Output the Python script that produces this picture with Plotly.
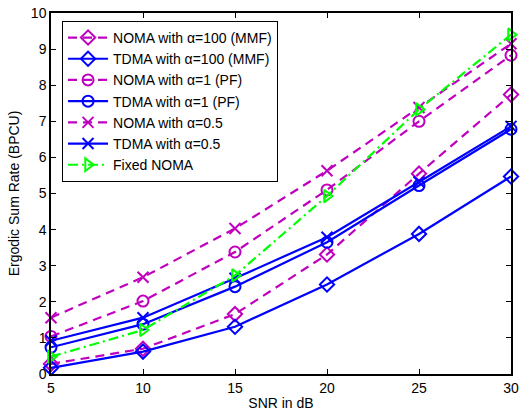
import plotly.graph_objects as go

snr_db = [5, 10, 15, 20, 25, 30]
noma_mmf = [0.28, 0.70, 1.66, 3.31, 5.55, 7.74]
tdma_mmf = [0.17, 0.62, 1.31, 2.48, 3.88, 5.47]
noma_pf = [1.04, 2.02, 3.38, 5.10, 7.00, 8.83]
tdma_pf = [0.74, 1.38, 2.42, 3.65, 5.22, 6.78]
noma_05 = [1.56, 2.68, 4.03, 5.63, 7.38, 9.15]
tdma_05 = [0.92, 1.56, 2.65, 3.79, 5.32, 6.86]
fixed_noma = [0.48, 1.22, 2.73, 4.93, 7.33, 9.40]
y_ticks = [0, 1, 2, 3, 4, 5, 6, 7, 8, 9, 10]
x_ticks = [5, 10, 15, 20, 25, 30]

MAG = "#BF00BF"
BLUE = "#0000FF"
GREEN = "#00FF00"
DASH = "9px,6px"
DASHDOT = "10px,4px,2px,4px"

series = [
    ("NOMA with \u03b1=100 (MMF)", noma_mmf, MAG, DASH, "diamond-open"),
    ("TDMA with \u03b1=100 (MMF)", tdma_mmf, BLUE, "solid", "diamond-open"),
    ("NOMA with \u03b1=1 (PF)", noma_pf, MAG, DASH, "circle-open"),
    ("TDMA with \u03b1=1 (PF)", tdma_pf, BLUE, "solid", "circle-open"),
    ("NOMA with \u03b1=0.5", noma_05, MAG, DASH, "x-thin-open"),
    ("TDMA with \u03b1=0.5", tdma_05, BLUE, "solid", "x-thin-open"),
    ("Fixed NOMA", fixed_noma, GREEN, DASHDOT, "triangle-right-open"),
]

fig = go.Figure()
for name, ys, col, dash, sym in series:
    fig.add_trace(go.Scatter(
        x=snr_db, y=ys, name=name, mode="lines+markers", cliponaxis=False,
        line=dict(color=col, width=2.2, dash=dash),
        marker=dict(symbol=sym, size=11, color=col, line=dict(color=col, width=2)),
    ))

axis_common = dict(
    showgrid=False, zeroline=False, showline=True, linecolor="black", linewidth=1.5,
    mirror="ticks", ticks="inside", ticklen=5, tickwidth=1, tickcolor="black",
    ticklabeloverflow="allow",
    tickfont=dict(family="Liberation Sans, Arial", size=14, color="black"),
)

fig.update_layout(
    width=524, height=417,
    margin=dict(l=51, r=5, t=6, b=43),
    paper_bgcolor="white", plot_bgcolor="white",
    font=dict(family="Liberation Sans, Arial", size=14, color="black"),
    xaxis=dict(range=[5, 30], tickvals=x_ticks, ticktext=[str(v) for v in x_ticks],
               title=dict(text="SNR in dB", standoff=4, font=dict(size=14)), **axis_common),
    yaxis=dict(range=[0, 10], tickvals=y_ticks, ticktext=[str(v) for v in y_ticks],
               title=dict(text="Ergodic Sum Rate (BPCU)", standoff=8, font=dict(size=14)), **axis_common),
    legend=dict(x=0.024, y=0.978, xanchor="left", yanchor="top",
                bgcolor="white", bordercolor="black", borderwidth=1,
                font=dict(size=14), itemwidth=40, tracegroupgap=0),
    showlegend=True,
)

fig.write_html("out.html", config={"displayModeBar": False},
               post_script="document.body.style.margin='0';document.body.style.overflow='hidden';")
